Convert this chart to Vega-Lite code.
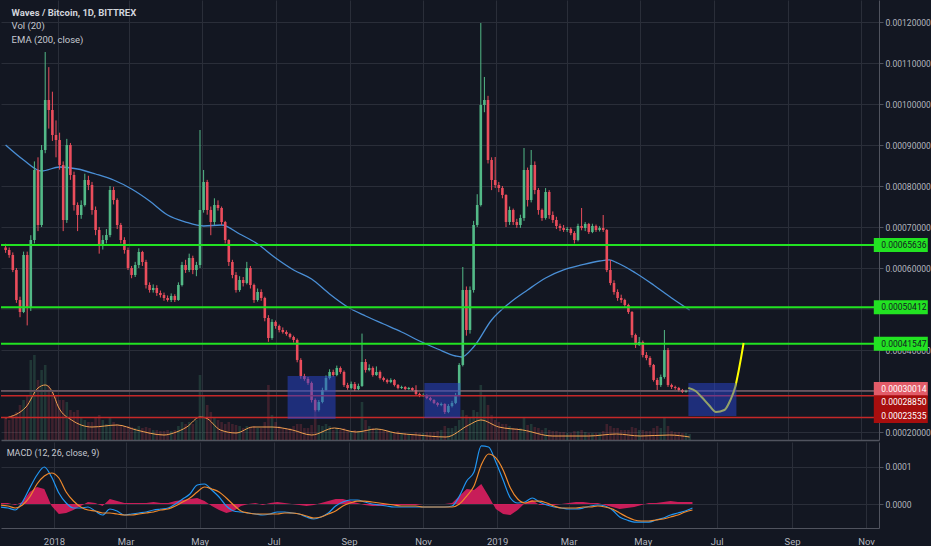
{
"$schema":"https://vega.github.io/schema/vega-lite/v6.json",
"background":"#131722",
"padding":0,
"spacing":2,
"config":{"view":{"stroke":null},"font":"Roboto","axis":{"labelFont":"Roboto","labelColor":"#b2b5be","gridColor":"#2a2e39","domainColor":"#50535e","tickColor":"#50535e"}},
"datasets":{
"candles":[
{"d":"2017-11-18","o":0.00065,"h":0.000659,"l":0.000637,"c":0.000644,"v":22},
{"d":"2017-11-21","o":0.000644,"h":0.00065,"l":0.000625,"c":0.0006318,"v":20},
{"d":"2017-11-24","o":0.0006318,"h":0.000638,"l":0.00059,"c":0.0005952,"v":25},
{"d":"2017-11-27","o":0.0005952,"h":0.0006,"l":0.000515,"c":0.000522,"v":28},
{"d":"2017-11-30","o":0.000522,"h":0.00053,"l":0.00048,"c":0.0004927,"v":35},
{"d":"2017-12-03","o":0.0004927,"h":0.00064,"l":0.00049,"c":0.0006318,"v":40},
{"d":"2017-12-06","o":0.0006318,"h":0.00064,"l":0.00046,"c":0.0005025,"v":45},
{"d":"2017-12-09","o":0.0005025,"h":0.00068,"l":0.000495,"c":0.0006683,"v":80},
{"d":"2017-12-12","o":0.0006683,"h":0.00086,"l":0.00066,"c":0.0008391,"v":85},
{"d":"2017-12-15","o":0.0008391,"h":0.00087,"l":0.00069,"c":0.0007049,"v":60},
{"d":"2017-12-18","o":0.0007049,"h":0.0009,"l":0.0007,"c":0.0008878,"v":70},
{"d":"2017-12-21","o":0.0008878,"h":0.0011269,"l":0.00088,"c":0.0010098,"v":75},
{"d":"2017-12-24","o":0.0010098,"h":0.00109,"l":0.00094,"c":0.0009854,"v":55},
{"d":"2017-12-27","o":0.0009854,"h":0.00103,"l":0.00091,"c":0.0009244,"v":50},
{"d":"2017-12-30","o":0.0009244,"h":0.00096,"l":0.00087,"c":0.0009122,"v":45},
{"d":"2018-01-02","o":0.0009122,"h":0.00093,"l":0.00084,"c":0.0008513,"v":40},
{"d":"2018-01-05","o":0.0008513,"h":0.00086,"l":0.00069,"c":0.0007171,"v":40},
{"d":"2018-01-08","o":0.0007171,"h":0.000915,"l":0.00071,"c":0.0009,"v":38},
{"d":"2018-01-11","o":0.0009,"h":0.000905,"l":0.000815,"c":0.0008269,"v":30},
{"d":"2018-01-14","o":0.0008269,"h":0.000835,"l":0.00074,"c":0.0007537,"v":28},
{"d":"2018-01-17","o":0.0007537,"h":0.00076,"l":0.00069,"c":0.0007293,"v":30},
{"d":"2018-01-20","o":0.0007293,"h":0.000765,"l":0.00072,"c":0.0007537,"v":22},
{"d":"2018-01-23","o":0.0007537,"h":0.00083,"l":0.00075,"c":0.0008147,"v":20},
{"d":"2018-01-26","o":0.0008147,"h":0.000825,"l":0.00079,"c":0.0008025,"v":18},
{"d":"2018-01-29","o":0.0008025,"h":0.00081,"l":0.00073,"c":0.0007415,"v":18},
{"d":"2018-02-01","o":0.0007415,"h":0.00075,"l":0.00068,"c":0.0006927,"v":22},
{"d":"2018-02-04","o":0.0006927,"h":0.0007,"l":0.000635,"c":0.0006561,"v":25},
{"d":"2018-02-07","o":0.0006561,"h":0.00068,"l":0.000645,"c":0.0006683,"v":20},
{"d":"2018-02-10","o":0.0006683,"h":0.000695,"l":0.00066,"c":0.0006805,"v":16},
{"d":"2018-02-13","o":0.0006805,"h":0.0008,"l":0.000675,"c":0.0007903,"v":22},
{"d":"2018-02-16","o":0.0007903,"h":0.000798,"l":0.000755,"c":0.0007659,"v":18},
{"d":"2018-02-19","o":0.0007659,"h":0.00077,"l":0.000695,"c":0.0007049,"v":16},
{"d":"2018-02-22","o":0.0007049,"h":0.00071,"l":0.00066,"c":0.0006683,"v":15},
{"d":"2018-02-25","o":0.0006683,"h":0.000675,"l":0.000635,"c":0.000644,"v":14},
{"d":"2018-02-28","o":0.000644,"h":0.00065,"l":0.000595,"c":0.0006,"v":14},
{"d":"2018-03-03","o":0.0006,"h":0.000605,"l":0.000575,"c":0.000583,"v":13},
{"d":"2018-03-06","o":0.000583,"h":0.000615,"l":0.000578,"c":0.0006074,"v":12},
{"d":"2018-03-09","o":0.0006074,"h":0.000648,"l":0.0006,"c":0.0006391,"v":14},
{"d":"2018-03-12","o":0.0006391,"h":0.000642,"l":0.000605,"c":0.0006147,"v":12},
{"d":"2018-03-15","o":0.0006147,"h":0.00062,"l":0.00055,"c":0.0005586,"v":13},
{"d":"2018-03-18","o":0.0005586,"h":0.000565,"l":0.00054,"c":0.0005464,"v":12},
{"d":"2018-03-21","o":0.0005464,"h":0.00056,"l":0.00054,"c":0.0005513,"v":10},
{"d":"2018-03-24","o":0.0005513,"h":0.000558,"l":0.000532,"c":0.0005391,"v":10},
{"d":"2018-03-27","o":0.0005391,"h":0.000545,"l":0.000528,"c":0.0005342,"v":9},
{"d":"2018-03-30","o":0.0005342,"h":0.00054,"l":0.00052,"c":0.0005269,"v":9},
{"d":"2018-04-02","o":0.0005269,"h":0.000533,"l":0.000518,"c":0.000522,"v":10},
{"d":"2018-04-05","o":0.000522,"h":0.000538,"l":0.000517,"c":0.0005318,"v":9},
{"d":"2018-04-08","o":0.0005318,"h":0.000536,"l":0.000517,"c":0.000522,"v":10},
{"d":"2018-04-11","o":0.000522,"h":0.000565,"l":0.00052,"c":0.0005586,"v":14},
{"d":"2018-04-14","o":0.0005586,"h":0.000615,"l":0.000555,"c":0.0006074,"v":18},
{"d":"2018-04-17","o":0.0006074,"h":0.00062,"l":0.000588,"c":0.0005952,"v":16},
{"d":"2018-04-20","o":0.0005952,"h":0.000635,"l":0.00059,"c":0.0006244,"v":18},
{"d":"2018-04-23","o":0.0006244,"h":0.00063,"l":0.000585,"c":0.0005952,"v":16},
{"d":"2018-04-26","o":0.0005952,"h":0.000615,"l":0.00058,"c":0.0006074,"v":20},
{"d":"2018-04-29","o":0.0006074,"h":0.0009366,"l":0.0006,"c":0.0007415,"v":65},
{"d":"2018-05-02","o":0.0007415,"h":0.0008391,"l":0.000735,"c":0.0008098,"v":45},
{"d":"2018-05-05","o":0.0008098,"h":0.000815,"l":0.00073,"c":0.0007415,"v":35},
{"d":"2018-05-08","o":0.0007415,"h":0.00075,"l":0.00068,"c":0.0007122,"v":28},
{"d":"2018-05-11","o":0.0007122,"h":0.00077,"l":0.000705,"c":0.0007537,"v":22},
{"d":"2018-05-14","o":0.0007537,"h":0.000765,"l":0.00074,"c":0.0007464,"v":20},
{"d":"2018-05-17","o":0.0007464,"h":0.00075,"l":0.000705,"c":0.0007122,"v":18},
{"d":"2018-05-20","o":0.0007122,"h":0.000715,"l":0.00066,"c":0.0006683,"v":16},
{"d":"2018-05-23","o":0.0006683,"h":0.00067,"l":0.000605,"c":0.0006147,"v":18},
{"d":"2018-05-26","o":0.0006147,"h":0.00062,"l":0.000575,"c":0.000583,"v":16},
{"d":"2018-05-29","o":0.000583,"h":0.00059,"l":0.00054,"c":0.0005464,"v":15},
{"d":"2018-06-01","o":0.0005464,"h":0.00058,"l":0.000542,"c":0.0005708,"v":14},
{"d":"2018-06-04","o":0.0005708,"h":0.000578,"l":0.000555,"c":0.0005635,"v":12},
{"d":"2018-06-07","o":0.0005635,"h":0.000615,"l":0.00056,"c":0.0006,"v":14},
{"d":"2018-06-10","o":0.0006,"h":0.000605,"l":0.00055,"c":0.0005586,"v":13},
{"d":"2018-06-13","o":0.0005586,"h":0.000562,"l":0.000515,"c":0.000522,"v":14},
{"d":"2018-06-16","o":0.000522,"h":0.00055,"l":0.000518,"c":0.0005415,"v":12},
{"d":"2018-06-19","o":0.0005415,"h":0.000548,"l":0.00052,"c":0.0005269,"v":12},
{"d":"2018-06-22","o":0.0005269,"h":0.00053,"l":0.00047,"c":0.0004781,"v":18},
{"d":"2018-06-25","o":0.0004781,"h":0.000485,"l":0.00042,"c":0.0004293,"v":55},
{"d":"2018-06-28","o":0.0004293,"h":0.000475,"l":0.000425,"c":0.0004684,"v":25},
{"d":"2018-07-01","o":0.0004684,"h":0.000472,"l":0.000452,"c":0.0004586,"v":18},
{"d":"2018-07-04","o":0.0004586,"h":0.000462,"l":0.000443,"c":0.0004488,"v":14},
{"d":"2018-07-07","o":0.0004488,"h":0.000455,"l":0.00044,"c":0.000444,"v":12},
{"d":"2018-07-10","o":0.000444,"h":0.000448,"l":0.000435,"c":0.0004391,"v":12},
{"d":"2018-07-13","o":0.0004391,"h":0.000442,"l":0.000428,"c":0.0004318,"v":12},
{"d":"2018-07-16","o":0.0004318,"h":0.000435,"l":0.000418,"c":0.0004244,"v":14},
{"d":"2018-07-19","o":0.0004244,"h":0.000428,"l":0.00037,"c":0.0003757,"v":16},
{"d":"2018-07-22","o":0.0003757,"h":0.00038,"l":0.00033,"c":0.0003366,"v":16},
{"d":"2018-07-25","o":0.0003366,"h":0.000342,"l":0.000325,"c":0.0003293,"v":12},
{"d":"2018-07-28","o":0.0003293,"h":0.000334,"l":0.000315,"c":0.0003196,"v":12},
{"d":"2018-07-31","o":0.0003196,"h":0.000323,"l":0.000272,"c":0.0002781,"v":15},
{"d":"2018-08-03","o":0.0002781,"h":0.000282,"l":0.00025,"c":0.0002537,"v":30},
{"d":"2018-08-06","o":0.0002537,"h":0.000278,"l":0.00025,"c":0.0002732,"v":15},
{"d":"2018-08-09","o":0.0002732,"h":0.000308,"l":0.00027,"c":0.0003025,"v":14},
{"d":"2018-08-12","o":0.0003025,"h":0.000338,"l":0.0003,"c":0.0003318,"v":16},
{"d":"2018-08-15","o":0.0003318,"h":0.000353,"l":0.000328,"c":0.0003464,"v":14},
{"d":"2018-08-18","o":0.0003464,"h":0.000352,"l":0.000335,"c":0.0003391,"v":10},
{"d":"2018-08-21","o":0.0003391,"h":0.000362,"l":0.000336,"c":0.0003562,"v":12},
{"d":"2018-08-24","o":0.0003562,"h":0.00036,"l":0.000342,"c":0.0003464,"v":10},
{"d":"2018-08-27","o":0.0003464,"h":0.00035,"l":0.00031,"c":0.0003147,"v":12},
{"d":"2018-08-30","o":0.0003147,"h":0.00032,"l":0.000303,"c":0.0003074,"v":10},
{"d":"2018-09-02","o":0.0003074,"h":0.000323,"l":0.000304,"c":0.0003171,"v":9},
{"d":"2018-09-05","o":0.0003171,"h":0.000322,"l":0.0003,"c":0.0003049,"v":10},
{"d":"2018-09-08","o":0.0003049,"h":0.000318,"l":0.000302,"c":0.0003123,"v":9},
{"d":"2018-09-11","o":0.0003123,"h":0.00044,"l":0.00031,"c":0.0003708,"v":38},
{"d":"2018-09-14","o":0.0003708,"h":0.000378,"l":0.000345,"c":0.0003513,"v":20},
{"d":"2018-09-17","o":0.0003513,"h":0.000365,"l":0.000348,"c":0.0003562,"v":14},
{"d":"2018-09-20","o":0.0003562,"h":0.00036,"l":0.000335,"c":0.0003391,"v":12},
{"d":"2018-09-23","o":0.0003391,"h":0.00036,"l":0.000337,"c":0.0003464,"v":12},
{"d":"2018-09-26","o":0.0003464,"h":0.00035,"l":0.000328,"c":0.0003318,"v":10},
{"d":"2018-09-29","o":0.0003318,"h":0.000335,"l":0.000323,"c":0.0003269,"v":9},
{"d":"2018-10-02","o":0.0003269,"h":0.00033,"l":0.000318,"c":0.000322,"v":9},
{"d":"2018-10-05","o":0.000322,"h":0.000331,"l":0.000319,"c":0.0003269,"v":8},
{"d":"2018-10-08","o":0.0003269,"h":0.000329,"l":0.000311,"c":0.0003147,"v":8},
{"d":"2018-10-11","o":0.0003147,"h":0.000317,"l":0.000304,"c":0.0003074,"v":9},
{"d":"2018-10-14","o":0.0003074,"h":0.000313,"l":0.000305,"c":0.0003098,"v":7},
{"d":"2018-10-17","o":0.0003098,"h":0.000312,"l":0.000302,"c":0.0003049,"v":7},
{"d":"2018-10-20","o":0.0003049,"h":0.00031,"l":0.000303,"c":0.0003074,"v":6},
{"d":"2018-10-23","o":0.0003074,"h":0.000309,"l":0.0003,"c":0.0003025,"v":6},
{"d":"2018-10-26","o":0.0003025,"h":0.000314,"l":0.00029,"c":0.0002927,"v":8},
{"d":"2018-10-29","o":0.0002927,"h":0.000296,"l":0.000285,"c":0.0002878,"v":7},
{"d":"2018-11-01","o":0.0002878,"h":0.000294,"l":0.000286,"c":0.0002903,"v":7},
{"d":"2018-11-04","o":0.0002903,"h":0.000292,"l":0.00028,"c":0.000283,"v":8},
{"d":"2018-11-07","o":0.000283,"h":0.000286,"l":0.000275,"c":0.0002781,"v":8},
{"d":"2018-11-10","o":0.0002781,"h":0.00028,"l":0.000268,"c":0.0002708,"v":8},
{"d":"2018-11-13","o":0.0002708,"h":0.000273,"l":0.000262,"c":0.0002659,"v":9},
{"d":"2018-11-16","o":0.0002659,"h":0.000272,"l":0.000263,"c":0.0002684,"v":10},
{"d":"2018-11-19","o":0.0002684,"h":0.00027,"l":0.000244,"c":0.0002488,"v":14},
{"d":"2018-11-22","o":0.0002488,"h":0.000268,"l":0.000246,"c":0.0002635,"v":12},
{"d":"2018-11-25","o":0.0002635,"h":0.000276,"l":0.00026,"c":0.0002708,"v":12},
{"d":"2018-11-28","o":0.0002708,"h":0.000295,"l":0.000268,"c":0.0002903,"v":14},
{"d":"2018-12-01","o":0.0002903,"h":0.000368,"l":0.000288,"c":0.0003635,"v":20},
{"d":"2018-12-04","o":0.0003635,"h":0.0006025,"l":0.00036,"c":0.0005464,"v":30},
{"d":"2018-12-07","o":0.0005464,"h":0.000555,"l":0.000435,"c":0.0004488,"v":25},
{"d":"2018-12-10","o":0.0004488,"h":0.000555,"l":0.00044,"c":0.0005464,"v":22},
{"d":"2018-12-13","o":0.0005464,"h":0.000715,"l":0.00054,"c":0.0007049,"v":30},
{"d":"2018-12-16","o":0.0007049,"h":0.00078,"l":0.0007,"c":0.0007537,"v":28},
{"d":"2018-12-19","o":0.0007537,"h":0.0011976,"l":0.00075,"c":0.0009976,"v":55},
{"d":"2018-12-22","o":0.0009976,"h":0.001066,"l":0.00098,"c":0.0010098,"v":45},
{"d":"2018-12-25","o":0.0010098,"h":0.00102,"l":0.000855,"c":0.0008635,"v":35},
{"d":"2018-12-28","o":0.0008635,"h":0.00087,"l":0.00079,"c":0.0008147,"v":25},
{"d":"2018-12-31","o":0.0008147,"h":0.0008708,"l":0.000795,"c":0.0008025,"v":20},
{"d":"2019-01-03","o":0.0008025,"h":0.00081,"l":0.000785,"c":0.0007952,"v":18},
{"d":"2019-01-06","o":0.0007952,"h":0.0008,"l":0.00077,"c":0.0007781,"v":16},
{"d":"2019-01-09","o":0.0007781,"h":0.00078,"l":0.0007,"c":0.0007122,"v":16},
{"d":"2019-01-12","o":0.0007122,"h":0.00075,"l":0.000705,"c":0.0007415,"v":14},
{"d":"2019-01-15","o":0.0007415,"h":0.000745,"l":0.000705,"c":0.0007122,"v":12},
{"d":"2019-01-18","o":0.0007122,"h":0.00072,"l":0.000698,"c":0.0007049,"v":12},
{"d":"2019-01-21","o":0.0007049,"h":0.00073,"l":0.000698,"c":0.000722,"v":12},
{"d":"2019-01-24","o":0.000722,"h":0.0008927,"l":0.000715,"c":0.0008391,"v":22},
{"d":"2019-01-27","o":0.0008391,"h":0.000845,"l":0.00075,"c":0.0007659,"v":15},
{"d":"2019-01-30","o":0.0007659,"h":0.0008878,"l":0.00076,"c":0.0008513,"v":16},
{"d":"2019-02-02","o":0.0008513,"h":0.00086,"l":0.00078,"c":0.0007903,"v":13},
{"d":"2019-02-05","o":0.0007903,"h":0.000795,"l":0.00073,"c":0.0007415,"v":12},
{"d":"2019-02-08","o":0.0007415,"h":0.000745,"l":0.000715,"c":0.000722,"v":10},
{"d":"2019-02-11","o":0.000722,"h":0.000795,"l":0.000718,"c":0.0007854,"v":12},
{"d":"2019-02-14","o":0.0007854,"h":0.00079,"l":0.00072,"c":0.0007293,"v":10},
{"d":"2019-02-17","o":0.0007293,"h":0.000738,"l":0.00071,"c":0.0007171,"v":9},
{"d":"2019-02-20","o":0.0007171,"h":0.000725,"l":0.000695,"c":0.0007025,"v":9},
{"d":"2019-02-23","o":0.0007025,"h":0.000708,"l":0.00069,"c":0.0006976,"v":8},
{"d":"2019-02-26","o":0.0006976,"h":0.000705,"l":0.000688,"c":0.0006927,"v":8},
{"d":"2019-03-01","o":0.0006927,"h":0.0007,"l":0.000688,"c":0.0006952,"v":7},
{"d":"2019-03-04","o":0.0006952,"h":0.000699,"l":0.00068,"c":0.0006854,"v":7},
{"d":"2019-03-07","o":0.0006854,"h":0.00069,"l":0.00066,"c":0.0006683,"v":9},
{"d":"2019-03-10","o":0.0006683,"h":0.000708,"l":0.000665,"c":0.0007025,"v":9},
{"d":"2019-03-13","o":0.0007025,"h":0.0007464,"l":0.000692,"c":0.0006976,"v":10},
{"d":"2019-03-16","o":0.0006976,"h":0.000712,"l":0.00069,"c":0.0007074,"v":8},
{"d":"2019-03-19","o":0.0007074,"h":0.00071,"l":0.000683,"c":0.0006879,"v":7},
{"d":"2019-03-22","o":0.0006879,"h":0.000708,"l":0.000685,"c":0.0007025,"v":7},
{"d":"2019-03-25","o":0.0007025,"h":0.000706,"l":0.000688,"c":0.0006927,"v":7},
{"d":"2019-03-28","o":0.0006927,"h":0.000702,"l":0.000689,"c":0.0006976,"v":7},
{"d":"2019-03-31","o":0.0006976,"h":0.0007293,"l":0.000688,"c":0.0006927,"v":9},
{"d":"2019-04-03","o":0.0006927,"h":0.000695,"l":0.00059,"c":0.0005952,"v":16},
{"d":"2019-04-06","o":0.0005952,"h":0.0006196,"l":0.000558,"c":0.0005635,"v":14},
{"d":"2019-04-09","o":0.0005635,"h":0.00057,"l":0.000535,"c":0.0005415,"v":12},
{"d":"2019-04-12","o":0.0005415,"h":0.000548,"l":0.00052,"c":0.0005269,"v":12},
{"d":"2019-04-15","o":0.0005269,"h":0.000535,"l":0.000515,"c":0.000522,"v":10},
{"d":"2019-04-18","o":0.000522,"h":0.000525,"l":0.000505,"c":0.0005098,"v":10},
{"d":"2019-04-21","o":0.0005098,"h":0.000513,"l":0.000488,"c":0.0004927,"v":10},
{"d":"2019-04-24","o":0.0004927,"h":0.000495,"l":0.00043,"c":0.0004366,"v":13},
{"d":"2019-04-27","o":0.0004366,"h":0.00044,"l":0.000405,"c":0.0004122,"v":12},
{"d":"2019-04-30","o":0.0004122,"h":0.0004318,"l":0.00041,"c":0.0004196,"v":10},
{"d":"2019-05-03","o":0.0004196,"h":0.000423,"l":0.000382,"c":0.0003878,"v":10},
{"d":"2019-05-06","o":0.0003878,"h":0.000395,"l":0.000375,"c":0.0003805,"v":9},
{"d":"2019-05-09","o":0.0003805,"h":0.000385,"l":0.000358,"c":0.0003635,"v":9},
{"d":"2019-05-12","o":0.0003635,"h":0.000366,"l":0.000323,"c":0.0003269,"v":12},
{"d":"2019-05-15","o":0.0003269,"h":0.000332,"l":0.0003025,"c":0.0003147,"v":14},
{"d":"2019-05-18","o":0.0003147,"h":0.00034,"l":0.00031,"c":0.0003342,"v":12},
{"d":"2019-05-21","o":0.0003342,"h":0.0004488,"l":0.00033,"c":0.0004,"v":22},
{"d":"2019-05-24","o":0.0004,"h":0.000405,"l":0.00031,"c":0.0003147,"v":14},
{"d":"2019-05-27","o":0.0003147,"h":0.000318,"l":0.000305,"c":0.0003098,"v":9},
{"d":"2019-05-30","o":0.0003098,"h":0.000313,"l":0.000303,"c":0.0003074,"v":8},
{"d":"2019-06-02","o":0.0003074,"h":0.00031,"l":0.000299,"c":0.0003025,"v":8},
{"d":"2019-06-05","o":0.0003025,"h":0.000305,"l":0.000295,"c":0.0002976,"v":7},
{"d":"2019-06-08","o":0.0002976,"h":0.000303,"l":0.000296,"c":0.0003001,"v":7},
{"d":"2019-06-11","o":0.0003001,"h":0.000302,"l":0.000298,"c":0.00030014,"v":6}
],
"ema":[
{"d":"2017-11-18","p":0.0009},{"d":"2017-12-03","p":0.0008635},{"d":"2017-12-18","p":0.0008366},{"d":"2018-01-02","p":0.0008464},{"d":"2018-01-17","p":0.0008415},{"d":"2018-02-01","p":0.0008293},{"d":"2018-02-16","p":0.0008147},{"d":"2018-03-03","p":0.0007927},{"d":"2018-03-18","p":0.0007635},{"d":"2018-04-02","p":0.0007293},{"d":"2018-04-17","p":0.0007122},{"d":"2018-05-02","p":0.0007025},{"d":"2018-05-17","p":0.0007049},{"d":"2018-06-01","p":0.000683},{"d":"2018-06-16","p":0.0006586},{"d":"2018-07-01","p":0.0006244},{"d":"2018-07-16","p":0.0005952},{"d":"2018-07-31","p":0.0005732},{"d":"2018-08-15","p":0.0005366},{"d":"2018-08-30","p":0.0005049},{"d":"2018-09-14","p":0.000483},{"d":"2018-09-29","p":0.0004635},{"d":"2018-10-14","p":0.000444},{"d":"2018-10-29","p":0.000422},{"d":"2018-11-13","p":0.0004025},{"d":"2018-11-28","p":0.0003854},{"d":"2018-12-03","p":0.000383},{"d":"2018-12-13","p":0.0004074},{"d":"2018-12-28","p":0.0004732},{"d":"2019-01-12","p":0.0005147},{"d":"2019-01-27","p":0.0005464},{"d":"2019-02-11","p":0.0005757},{"d":"2019-02-26","p":0.0005952},{"d":"2019-03-13","p":0.0006074},{"d":"2019-03-28","p":0.0006171},{"d":"2019-04-05","p":0.0006196},{"d":"2019-04-12","p":0.0006122},{"d":"2019-04-27","p":0.0005879},{"d":"2019-05-12","p":0.0005586},{"d":"2019-05-27","p":0.0005269},{"d":"2019-06-11","p":0.0004976}
],
"volma":[
{"d":"2017-11-18","v":22},{"d":"2017-12-05","v":33},{"d":"2017-12-15","v":52},{"d":"2017-12-21","v":55},{"d":"2017-12-27","v":48},{"d":"2018-01-01","v":33},{"d":"2018-01-12","v":20},{"d":"2018-01-29","v":13},{"d":"2018-02-19","v":15},{"d":"2018-03-07","v":10},{"d":"2018-03-30","v":5},{"d":"2018-04-07","v":7},{"d":"2018-04-18","v":13},{"d":"2018-04-29","v":23},{"d":"2018-05-04","v":22},{"d":"2018-05-16","v":10},{"d":"2018-05-29","v":7},{"d":"2018-06-12","v":13},{"d":"2018-06-28","v":13},{"d":"2018-07-15","v":10},{"d":"2018-07-31","v":5},{"d":"2018-08-19","v":12},{"d":"2018-09-06","v":8},{"d":"2018-09-23","v":11},{"d":"2018-10-09","v":7},{"d":"2018-10-27","v":5},{"d":"2018-11-20","v":3},{"d":"2018-12-09","v":15},{"d":"2018-12-19","v":20},{"d":"2019-01-03","v":13},{"d":"2019-01-23","v":10},{"d":"2019-02-17","v":4},{"d":"2019-03-19","v":4},{"d":"2019-04-11","v":6},{"d":"2019-05-01","v":4},{"d":"2019-05-25","v":5},{"d":"2019-06-11","v":3}
],
"levels":[
{"p":0.00065636,"k":"g"},{"p":0.00050412,"k":"g"},{"p":0.00041547,"k":"g"},{"p":0.00030014,"k":"l"},{"p":0.0002885,"k":"r"},{"p":0.00023535,"k":"r"}
],
"zones":[
{"d1":"2018-07-11","d2":"2018-08-20","p1":0.0003366,"p2":0.0002318},
{"d1":"2018-11-02","d2":"2018-12-02","p1":0.0003196,"p2":0.0002342},
{"d1":"2019-06-10","d2":"2019-07-20","p1":0.0003196,"p2":0.0002391}
],
"curve":[
{"d":"2019-06-10","p":0.0003074},{"d":"2019-06-16","p":0.0003001},{"d":"2019-06-21","p":0.0002854},{"d":"2019-06-27","p":0.0002659},{"d":"2019-07-03","p":0.0002488},{"d":"2019-07-10","p":0.0002537},{"d":"2019-07-15","p":0.0002781},{"d":"2019-07-19","p":0.0003098},{"d":"2019-07-22","p":0.0003513},{"d":"2019-07-24","p":0.000383},{"d":"2019-07-26","p":0.0004171}
],
"macd":[
{"d":"2017-11-18","m":-0.000008,"s":-0.0000027,"h":0.0000027},
{"d":"2017-11-24","m":-0.0000107,"s":-0.0000054,"h":0.0000027},
{"d":"2017-11-30","m":-0.0000161,"s":-0.0000107,"h":-0.0000027},
{"d":"2017-12-06","m":0.0000054,"s":-0.0000027,"h":0.0000054},
{"d":"2017-12-12","m":0.0000429,"s":0.0000188,"h":0.0000322},
{"d":"2017-12-18","m":0.0000778,"s":0.0000536,"h":0.0000456},
{"d":"2017-12-24","m":0.0000992,"s":0.0000751,"h":0.0000402},
{"d":"2017-12-30","m":0.0000724,"s":0.0000831,"h":-0.0000054},
{"d":"2018-01-05","m":0.0000295,"s":0.0000697,"h":-0.0000268},
{"d":"2018-01-11","m":0.0000027,"s":0.0000322,"h":-0.0000241},
{"d":"2018-01-17","m":-0.0000107,"s":0.000008,"h":-0.0000161},
{"d":"2018-01-23","m":-0.0000107,"s":-0.000008,"h":-0.0000054},
{"d":"2018-01-29","m":-0.000008,"s":-0.0000161,"h":0.0000054},
{"d":"2018-02-04","m":-0.0000188,"s":-0.0000188,"h":0.0000027},
{"d":"2018-02-10","m":-0.0000295,"s":-0.0000241,"h":-0.0000054},
{"d":"2018-02-16","m":-0.0000134,"s":-0.0000241,"h":0.0000134},
{"d":"2018-02-22","m":-0.0000188,"s":-0.0000268,"h":0.000008},
{"d":"2018-02-28","m":-0.0000295,"s":-0.0000295,"h":0.0000027},
{"d":"2018-03-06","m":-0.0000268,"s":-0.0000295,"h":0.0000027},
{"d":"2018-03-12","m":-0.0000241,"s":-0.0000268,"h":0.0000027},
{"d":"2018-03-18","m":-0.0000214,"s":-0.0000241,"h":0.0000027},
{"d":"2018-03-24","m":-0.0000161,"s":-0.0000214,"h":0.0000054},
{"d":"2018-03-30","m":-0.0000134,"s":-0.0000161,"h":0.0000027},
{"d":"2018-04-05","m":-0.0000107,"s":-0.0000134,"h":0.0000027},
{"d":"2018-04-11","m":0,"s":-0.0000054,"h":0.000008},
{"d":"2018-04-17","m":0.0000134,"s":0.0000054,"h":0.0000107},
{"d":"2018-04-23","m":0.0000268,"s":0.0000161,"h":0.0000134},
{"d":"2018-04-29","m":0.0000509,"s":0.0000322,"h":0.0000161},
{"d":"2018-05-05","m":0.0000536,"s":0.0000456,"h":0.000008},
{"d":"2018-05-11","m":0.0000375,"s":0.0000402,"h":-0.0000054},
{"d":"2018-05-17","m":0.0000188,"s":0.0000322,"h":-0.0000161},
{"d":"2018-05-23","m":-0.0000054,"s":0.0000161,"h":-0.0000241},
{"d":"2018-05-29","m":-0.0000188,"s":-0.0000027,"h":-0.0000188},
{"d":"2018-06-04","m":-0.0000214,"s":-0.0000188,"h":-0.0000054},
{"d":"2018-06-10","m":-0.0000241,"s":-0.0000241,"h":0},
{"d":"2018-06-16","m":-0.0000268,"s":-0.0000268,"h":0.0000027},
{"d":"2018-06-22","m":-0.0000295,"s":-0.0000268,"h":-0.0000027},
{"d":"2018-06-28","m":-0.0000268,"s":-0.0000268,"h":0.0000027},
{"d":"2018-07-04","m":-0.0000214,"s":-0.0000268,"h":0.0000054},
{"d":"2018-07-10","m":-0.0000214,"s":-0.0000241,"h":0.0000027},
{"d":"2018-07-16","m":-0.0000241,"s":-0.0000241,"h":0},
{"d":"2018-07-22","m":-0.0000268,"s":-0.0000268,"h":-0.0000027},
{"d":"2018-07-28","m":-0.0000348,"s":-0.0000322,"h":-0.0000054},
{"d":"2018-08-03","m":-0.0000402,"s":-0.0000375,"h":-0.0000027},
{"d":"2018-08-09","m":-0.0000348,"s":-0.0000348,"h":0.0000027},
{"d":"2018-08-15","m":-0.0000241,"s":-0.0000268,"h":0.000008},
{"d":"2018-08-21","m":-0.0000054,"s":-0.0000188,"h":0.0000134},
{"d":"2018-08-27","m":0.0000054,"s":-0.0000054,"h":0.0000134},
{"d":"2018-09-02","m":0.0000107,"s":0.0000027,"h":0.000008},
{"d":"2018-09-08","m":0.0000107,"s":0.000008,"h":0.0000027},
{"d":"2018-09-14","m":0.0000054,"s":0.000008,"h":-0.0000027},
{"d":"2018-09-20","m":0,"s":0.0000054,"h":-0.0000054},
{"d":"2018-09-26","m":-0.0000027,"s":0.0000027,"h":-0.0000054},
{"d":"2018-10-02","m":-0.0000054,"s":0,"h":-0.0000027},
{"d":"2018-10-08","m":-0.000008,"s":-0.0000027,"h":-0.0000027},
{"d":"2018-10-14","m":-0.000008,"s":-0.0000054,"h":-0.0000027},
{"d":"2018-10-20","m":-0.000008,"s":-0.0000054,"h":-0.0000027},
{"d":"2018-10-26","m":-0.000008,"s":-0.0000054,"h":-0.0000027},
{"d":"2018-11-01","m":-0.000008,"s":-0.000008,"h":0},
{"d":"2018-11-07","m":-0.000008,"s":-0.000008,"h":0},
{"d":"2018-11-13","m":-0.000008,"s":-0.000008,"h":0},
{"d":"2018-11-19","m":-0.000008,"s":-0.000008,"h":0},
{"d":"2018-11-25","m":-0.0000054,"s":-0.000008,"h":0.0000027},
{"d":"2018-12-01","m":0.0000214,"s":0,"h":0.0000214},
{"d":"2018-12-07","m":0.0000617,"s":0.0000214,"h":0.0000402},
{"d":"2018-12-13","m":0.0000858,"s":0.0000483,"h":0.0000375},
{"d":"2018-12-19","m":0.0001556,"s":0.0001046,"h":0.0000536},
{"d":"2018-12-25","m":0.0001529,"s":0.0001341,"h":0.0000214},
{"d":"2018-12-31","m":0.0001127,"s":0.0001234,"h":-0.0000134},
{"d":"2019-01-06","m":0.0000643,"s":0.0000912,"h":-0.0000268},
{"d":"2019-01-12","m":0.0000161,"s":0.0000429,"h":-0.0000295},
{"d":"2019-01-18","m":0.0000027,"s":0.0000134,"h":-0.0000161},
{"d":"2019-01-24","m":0.0000054,"s":0.0000027,"h":0.0000027},
{"d":"2019-01-30","m":0.0000161,"s":0.000008,"h":0.0000107},
{"d":"2019-02-05","m":0.0000054,"s":0.000008,"h":-0.0000027},
{"d":"2019-02-11","m":-0.0000027,"s":0.0000027,"h":-0.0000027},
{"d":"2019-02-17","m":-0.000008,"s":-0.0000054,"h":-0.0000027},
{"d":"2019-02-23","m":-0.0000107,"s":-0.0000107,"h":0},
{"d":"2019-03-01","m":-0.0000134,"s":-0.0000107,"h":0.0000027},
{"d":"2019-03-07","m":-0.0000134,"s":-0.0000107,"h":0.0000054},
{"d":"2019-03-13","m":-0.0000107,"s":-0.000008,"h":0.0000054},
{"d":"2019-03-19","m":-0.0000054,"s":-0.000008,"h":0.0000027},
{"d":"2019-03-25","m":-0.0000027,"s":-0.0000054,"h":0.0000027},
{"d":"2019-03-31","m":-0.0000054,"s":-0.000008,"h":-0.0000027},
{"d":"2019-04-06","m":-0.0000161,"s":-0.0000134,"h":-0.000008},
{"d":"2019-04-12","m":-0.0000348,"s":-0.0000241,"h":-0.0000134},
{"d":"2019-04-18","m":-0.0000429,"s":-0.0000348,"h":-0.0000107},
{"d":"2019-04-24","m":-0.0000483,"s":-0.0000429,"h":-0.000008},
{"d":"2019-04-30","m":-0.0000483,"s":-0.0000456,"h":-0.0000027},
{"d":"2019-05-06","m":-0.0000483,"s":-0.0000456,"h":0.0000027},
{"d":"2019-05-12","m":-0.0000429,"s":-0.0000429,"h":0.0000027},
{"d":"2019-05-18","m":-0.0000375,"s":-0.0000402,"h":0.0000054},
{"d":"2019-05-24","m":-0.0000295,"s":-0.0000348,"h":0.000008},
{"d":"2019-05-30","m":-0.0000241,"s":-0.0000295,"h":0.0000054},
{"d":"2019-06-05","m":-0.0000188,"s":-0.0000214,"h":0.0000054},
{"d":"2019-06-11","m":-0.0000107,"s":-0.0000161,"h":0.0000054}
]
},
"vconcat":[
{
"width":878,"height":440,
"resolve":{"scale":{"y":"independent"}},
"layer":[
{"layer":[
{"data":{"name":"candles"},"mark":{"type":"bar","size":2.6,"opacity":0.2,"clip":true},
"encoding":{"x":{"field":"d","type":"temporal","title":null,"scale":{"domain":[{"year":2017,"month":11,"date":18,"hours":8},{"year":2019,"month":11,"date":11,"hours":16}],"nice":false}},
"y":{"field":"v","type":"quantitative","scale":{"domain":[0,440],"nice":false},"axis":null},"y2":{"datum":0},
"color":{"condition":{"test":"datum.c >= datum.o","value":"#53b987"},"value":"#eb4d5c"}}},
{"data":{"name":"volma"},"mark":{"type":"line","color":"#f0a050","strokeWidth":1,"interpolate":"monotone","clip":true},
"encoding":{"x":{"field":"d","type":"temporal","title":null,"scale":{"domain":[{"year":2017,"month":11,"date":18,"hours":8},{"year":2019,"month":11,"date":11,"hours":16}],"nice":false}},
"y":{"field":"v","type":"quantitative","scale":{"domain":[0,440],"nice":false},"axis":null}}}
]},
{"layer":[
{"data":{"name":"ema"},"mark":{"type":"line","color":"#4a8fd6","strokeWidth":1.3,"interpolate":"monotone","clip":true},
"encoding":{"x":{"field":"d","type":"temporal","title":null,"scale":{"domain":[{"year":2017,"month":11,"date":18,"hours":8},{"year":2019,"month":11,"date":11,"hours":16}],"nice":false},
"axis":{"title":null,"labels":false,"ticks":false,"domain":true,"domainColor":"#50535e","domainWidth":1.5,"grid":true,"gridColor":"#2a2e39","tickCount":{"interval":"month","step":2}}},
"y":{"field":"p","type":"quantitative","title":null,"scale":{"domain":[0.0001805,0.0012537],"nice":false,"zero":false},
"axis":{"title":null,"orient":"right","values":[0.0002,0.0004,0.0006,0.0007,0.0008,0.0009,0.001,0.0011,0.0012],"format":".8f","grid":true,"gridColor":"#2a2e39","tickSize":4,"labelPadding":2,"domain":true,"domainColor":"#50535e","labelFontSize":8.5,"labelFlush":false,"labelOverlap":false}}}},
{"data":{"name":"levels"},"mark":{"type":"rule","color":"#2a2e39","strokeWidth":1},
"encoding":{"y":{"datum":0.0003,"type":"quantitative","title":null}}},
{"data":{"values":[{}]},"mark":{"type":"rule","color":"#2a2e39","strokeWidth":1},
"encoding":{"y":{"datum":0.0005,"type":"quantitative","title":null}}},
{"data":{"name":"candles"},"mark":{"type":"rule","strokeWidth":1,"clip":true},
"encoding":{"x":{"field":"d","type":"temporal","title":null},
"y":{"field":"l","type":"quantitative","title":null},"y2":{"field":"h"},
"color":{"condition":{"test":"datum.c >= datum.o","value":"#53b987"},"value":"#eb4d5c"}}},
{"data":{"name":"candles"},"mark":{"type":"bar","size":2.6,"clip":true},
"encoding":{"x":{"field":"d","type":"temporal","title":null},
"y":{"field":"o","type":"quantitative","title":null},"y2":{"field":"c"},
"color":{"condition":{"test":"datum.c >= datum.o","value":"#53b987"},"value":"#eb4d5c"}}},
{"data":{"name":"levels"},"transform":[{"filter":"datum.k == 'g'"}],"mark":{"type":"rule","color":"#22e322","strokeWidth":2},
"encoding":{"y":{"field":"p","type":"quantitative","title":null}}},
{"data":{"name":"levels"},"transform":[{"filter":"datum.k == 'l'"}],"mark":{"type":"rule","color":"#9c7780","strokeWidth":1},
"encoding":{"y":{"field":"p","type":"quantitative","title":null}}},
{"data":{"name":"levels"},"transform":[{"filter":"datum.k == 'r'"}],"mark":{"type":"rule","color":"#c62828","strokeWidth":1.5},
"encoding":{"y":{"field":"p","type":"quantitative","title":null}}},
{"data":{"name":"curve"},"mark":{"type":"line","color":"#ffff00","strokeWidth":2,"interpolate":"monotone","clip":true},
"encoding":{"x":{"field":"d","type":"temporal","title":null},"y":{"field":"p","type":"quantitative","title":null}}},
{"data":{"name":"zones"},"mark":{"type":"rect","color":"#2946d2","opacity":0.5,"clip":true},
"encoding":{"x":{"field":"d1","type":"temporal","title":null},"x2":{"field":"d2"},
"y":{"field":"p1","type":"quantitative","title":null},"y2":{"field":"p2"}}},
{"data":{"values":[{}]},"mark":{"type":"text","text":"Waves / Bitcoin, 1D, BITTREX","align":"left","baseline":"middle","fontSize":9.5,"fontWeight":"bold","color":"#d1d4dc"},
"encoding":{"x":{"datum":{"year":2017,"month":11,"date":23},"type":"temporal","title":null},"y":{"datum":0.001222,"type":"quantitative","title":null}}},
{"data":{"values":[{}]},"mark":{"type":"text","text":"Vol (20)","align":"left","baseline":"middle","fontSize":9.5,"color":"#c5c8d0"},
"encoding":{"x":{"datum":{"year":2017,"month":11,"date":23},"type":"temporal","title":null},"y":{"datum":0.0011903,"type":"quantitative","title":null}}},
{"data":{"values":[{}]},"mark":{"type":"text","text":"EMA (200, close)","align":"left","baseline":"middle","fontSize":9.5,"color":"#c5c8d0"},
"encoding":{"x":{"datum":{"year":2017,"month":11,"date":23},"type":"temporal","title":null},"y":{"datum":0.0011561,"type":"quantitative","title":null}}},
{"data":{"name":"levels"},"transform":[{"filter":"datum.k == 'g'"}],"mark":{"type":"point","shape":"M-1,-0.26H1V0.26H-1Z","size":2916,"filled":true,"opacity":1,"strokeWidth":0,"color":"#22e322","clip":false},
"encoding":{"x":{"datum":{"year":2019,"month":12,"date":4},"type":"temporal","title":null},"y":{"field":"p","type":"quantitative","title":null}}},
{"data":{"name":"levels"},"transform":[{"filter":"datum.k == 'g'"}],"mark":{"type":"text","align":"left","baseline":"middle","dx":2,"fontSize":8.5,"color":"#131722","clip":false},
"encoding":{"x":{"datum":{"year":2019,"month":11,"date":16},"type":"temporal","title":null},"y":{"field":"p","type":"quantitative","title":null},"text":{"field":"p","type":"quantitative","format":".8f"}}},
{"data":{"name":"levels"},"transform":[{"filter":"datum.k == 'l'"}],"mark":{"type":"point","shape":"M-1,-0.26H1V0.26H-1Z","size":2916,"filled":true,"opacity":1,"strokeWidth":0,"color":"#e25c69","yOffset":-2,"clip":false},
"encoding":{"x":{"datum":{"year":2019,"month":12,"date":4},"type":"temporal","title":null},"y":{"field":"p","type":"quantitative","title":null}}},
{"data":{"name":"levels"},"transform":[{"filter":"datum.k == 'l'"}],"mark":{"type":"text","align":"left","baseline":"middle","dx":2,"dy":-2,"fontSize":8.5,"color":"#ffffff","clip":false},
"encoding":{"x":{"datum":{"year":2019,"month":11,"date":16},"type":"temporal","title":null},"y":{"field":"p","type":"quantitative","title":null},"text":{"field":"p","type":"quantitative","format":".8f"}}},
{"data":{"name":"levels"},"transform":[{"filter":"datum.k == 'r' && datum.p > 0.00026"}],"mark":{"type":"point","shape":"M-1,-0.26H1V0.26H-1Z","size":2916,"filled":true,"opacity":1,"strokeWidth":0,"color":"#a80e0e","yOffset":6.5,"clip":false},
"encoding":{"x":{"datum":{"year":2019,"month":12,"date":4},"type":"temporal","title":null},"y":{"field":"p","type":"quantitative","title":null}}},
{"data":{"name":"levels"},"transform":[{"filter":"datum.k == 'r' && datum.p > 0.00026"}],"mark":{"type":"text","align":"left","baseline":"middle","dx":2,"dy":6.5,"fontSize":8.5,"color":"#ffffff","clip":false},
"encoding":{"x":{"datum":{"year":2019,"month":11,"date":16},"type":"temporal","title":null},"y":{"field":"p","type":"quantitative","title":null},"text":{"field":"p","type":"quantitative","format":".8f"}}},
{"data":{"name":"levels"},"transform":[{"filter":"datum.k == 'r' && datum.p < 0.00026"}],"mark":{"type":"point","shape":"M-1,-0.26H1V0.26H-1Z","size":2916,"filled":true,"opacity":1,"strokeWidth":0,"color":"#a80e0e","yOffset":-1.5,"clip":false},
"encoding":{"x":{"datum":{"year":2019,"month":12,"date":4},"type":"temporal","title":null},"y":{"field":"p","type":"quantitative","title":null}}},
{"data":{"name":"levels"},"transform":[{"filter":"datum.k == 'r' && datum.p < 0.00026"}],"mark":{"type":"text","align":"left","baseline":"middle","dx":2,"dy":-1.5,"fontSize":8.5,"color":"#ffffff","clip":false},
"encoding":{"x":{"datum":{"year":2019,"month":11,"date":16},"type":"temporal","title":null},"y":{"field":"p","type":"quantitative","title":null},"text":{"field":"p","type":"quantitative","format":".8f"}}}
]}
]
},
{
"width":878,"height":86,
"layer":[
{"data":{"name":"macd"},"mark":{"type":"area","color":"#e91e63","opacity":0.85,"clip":true},
"encoding":{"x":{"field":"d","type":"temporal","title":null,"scale":{"domain":[{"year":2017,"month":11,"date":18,"hours":8},{"year":2019,"month":11,"date":11,"hours":16}],"nice":false},
"axis":{"title":null,"orient":"bottom","tickCount":{"interval":"month","step":2},"labelExpr":"month(datum.value) == 0 ? timeFormat(datum.value, '%Y') : timeFormat(datum.value, '%b')","grid":true,"gridColor":"#2a2e39","ticks":false,"labelPadding":8,"domain":true,"domainColor":"#50535e","labelFontSize":9.5,"labelFlush":false,"labelOverlap":false}},
"y":{"field":"h","type":"quantitative","title":null,"scale":{"domain":[-0.0000643,0.0001662],"nice":false,"zero":false},
"axis":{"title":null,"orient":"right","values":[0,0.0001],"format":".4f","grid":true,"gridColor":"#2a2e39","tickSize":4,"labelPadding":2,"domain":true,"domainColor":"#50535e","labelFontSize":8.5,"labelFlush":false}},
"y2":{"datum":0}}},
{"data":{"name":"macd"},"mark":{"type":"line","color":"#2196f3","strokeWidth":1.2,"interpolate":"monotone","clip":true},
"encoding":{"x":{"field":"d","type":"temporal","title":null},"y":{"field":"m","type":"quantitative","title":null}}},
{"data":{"name":"macd"},"mark":{"type":"line","color":"#f08a2c","strokeWidth":1.2,"interpolate":"monotone","clip":true},
"encoding":{"x":{"field":"d","type":"temporal","title":null},"y":{"field":"s","type":"quantitative","title":null}}},
{"data":{"values":[{}]},"mark":{"type":"text","text":"MACD (12, 26, close, 9)","align":"left","baseline":"middle","fontSize":9,"color":"#c5c8d0"},
"encoding":{"x":{"datum":{"year":2017,"month":11,"date":23},"type":"temporal","title":null},"y":{"datum":0.0001367,"type":"quantitative","title":null}}}
]
}
]
}
